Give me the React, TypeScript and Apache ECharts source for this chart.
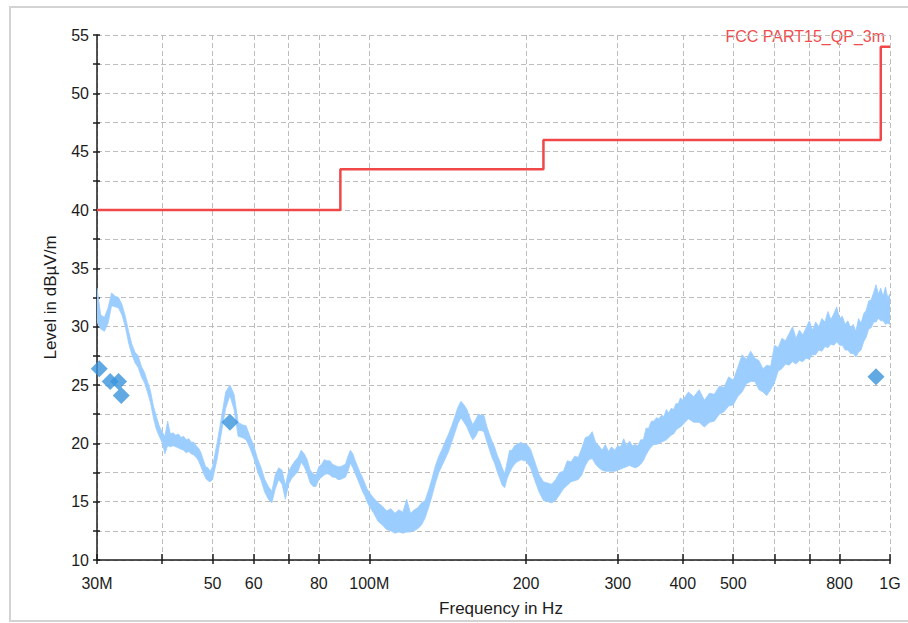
import React, { useEffect, useRef } from "react";
import * as echarts from "echarts";

// Measured spectrum: frequency samples (MHz) with the min / max level of the trace in each slot (dBµV/m)
const traceFreqMHz = [
  30, 30.5, 31, 31.5, 32, 32.5, 33, 33.5, 34, 34.5, 35, 35.5, 36, 36.5, 37, 37.5, 38, 38.5, 39, 39.5,
  40, 40.5, 41, 41.5, 42, 42.5, 43, 43.5, 44, 44.5, 45, 45.5, 46, 46.5, 47, 47.5, 48, 48.5, 49, 49.5, 50,
  51, 52, 53, 54, 55, 56, 57, 58, 59, 60, 61, 62, 63, 64, 65, 66, 67, 68, 69, 70,
  71, 72, 73, 74, 75, 76, 77, 78, 79, 80, 81, 82, 83, 84, 85, 86, 87, 88, 89, 90,
  91, 92, 93, 94, 95, 96, 97, 98, 99, 100,
  102, 104, 106, 108, 110, 112, 114, 116, 118, 120, 122, 124, 126, 128, 130, 132, 134, 136, 138, 140,
  142, 144, 146, 148, 150, 152, 154, 156, 158, 160, 162, 164, 166, 168, 170, 172, 174, 176, 178, 180,
  182, 184, 186, 188, 190, 192, 194, 196, 198, 200,
  204, 208, 212, 216, 220, 224, 228, 232, 236, 240, 244, 248, 252, 256, 260, 264, 268, 272, 276, 280,
  284, 288, 292, 296, 300, 304, 308, 312, 316, 320, 324, 328, 332, 336, 340, 344, 348, 352, 356, 360,
  364, 368, 372, 376, 380, 384, 388, 392, 396, 400,
  410, 420, 430, 440, 450, 460, 470, 480, 490, 500, 510, 520, 530, 540, 550, 560, 570, 580, 590, 600,
  610, 620, 630, 640, 650, 660, 670, 680, 690, 700, 710, 720, 730, 740, 750, 760, 770, 780, 790, 800,
  810, 820, 830, 840, 850, 860, 870, 880, 890, 900, 910, 920, 930, 940, 950, 960, 970, 980, 990, 1000,
];

const traceLow = [
  30.4, 29.8, 29.6, 30.3, 31.8, 31.7, 31.6, 31.0, 30.0, 28.6, 27.6, 26.9, 26.5, 25.7, 25.2, 24.4, 23.5, 22.2, 21.2, 20.6,
  20.1, 19.1, 19.8, 19.7, 19.8, 19.7, 19.6, 19.5, 19.4, 19.2, 19.3, 19.1, 19.0, 18.8, 18.5, 18.0, 17.5, 17.0, 16.8, 16.7, 16.9,
  18.6, 20.9, 23.0, 24.1, 22.9, 20.6, 20.5, 20.3, 19.6, 18.7, 17.6, 16.8, 15.8, 15.2, 14.9, 16.1, 16.9, 16.5, 15.2, 16.5,
  17.0, 17.3, 17.6, 18.4, 18.0, 17.4, 16.6, 16.3, 16.3, 16.9, 17.1, 17.3, 17.4, 17.3, 17.1, 17.1, 16.9, 16.9, 17.0, 17.1,
  17.6, 18.3, 17.9, 17.4, 16.9, 16.4, 15.9, 15.5, 15.0, 14.6,
  14.0, 13.3, 13.0, 12.6, 12.5, 12.3, 12.4, 12.3, 12.4, 12.4, 12.5, 12.7, 13.0, 13.6, 14.5, 15.5, 16.6, 17.5, 18.1, 18.7,
  19.3, 20.1, 20.9, 21.7, 22.2, 21.8, 21.4, 20.8, 20.3, 20.6, 21.1, 21.1, 21.0, 20.2, 19.5, 18.8, 18.3, 17.6, 17.0, 16.4,
  16.2, 17.0, 17.5, 17.9, 18.2, 18.4, 18.5, 18.6, 18.5, 18.5,
  17.9, 16.8, 15.8, 15.1, 15.0, 14.9, 15.1, 15.6, 16.1, 16.4, 16.7, 16.8, 16.9, 17.3, 18.1, 18.6, 18.7, 18.2, 17.9, 17.7,
  17.6, 17.6, 17.6, 17.6, 17.7, 17.8, 17.9, 18.0, 18.1, 18.0, 17.9, 18.0, 18.2, 18.5, 19.0, 19.4, 19.7, 19.9, 19.9, 20.0,
  20.1, 20.2, 20.3, 20.5, 20.7, 20.8, 21.1, 21.3, 21.4, 21.6,
  22.1, 21.8, 21.8, 21.4, 21.8, 21.9, 22.5, 22.7, 23.2, 23.3, 24.0, 24.4, 25.1, 25.3, 25.3, 24.6, 24.4, 24.1, 24.6, 25.2,
  26.2, 26.4, 26.8, 26.7, 27.0, 26.8, 27.1, 27.0, 27.3, 27.2, 27.6, 27.6, 28.0, 27.9, 28.3, 28.2, 28.5, 28.4, 28.7, 28.4,
  28.4, 28.0, 28.0, 27.7, 27.7, 27.4, 27.8, 28.0, 28.7, 29.1, 29.8, 29.9, 30.4, 30.4, 30.7, 30.5, 30.5, 30.2, 30.3, 30.2,
];

const traceHigh = [
  33.3, 31.0, 30.8, 31.6, 32.9, 32.6, 32.5, 31.9, 30.9, 29.6, 28.5, 27.8, 27.5, 26.6, 26.1, 25.3, 24.5, 23.2, 22.3, 21.5,
  21.0, 20.6, 21.9, 20.8, 20.9, 20.7, 20.8, 20.5, 20.6, 20.3, 20.4, 20.1, 20.1, 19.8, 19.6, 19.2, 18.6, 18.0, 17.9, 17.6, 18.0,
  20.0, 22.2, 24.4, 25.0, 24.2, 21.8, 21.6, 21.5, 20.6, 19.8, 18.7, 17.9, 16.9, 16.3, 15.9, 17.3, 17.9, 17.7, 16.4, 17.6,
  18.1, 18.5, 18.8, 19.4, 19.1, 18.6, 17.7, 17.4, 17.3, 18.0, 18.2, 18.6, 18.5, 18.5, 18.2, 18.1, 18.0, 18.0, 18.1, 18.2,
  18.9, 19.4, 19.1, 18.5, 18.0, 17.5, 17.1, 16.6, 16.1, 15.8,
  15.3, 14.9, 14.6, 14.2, 14.4, 14.0, 14.3, 14.1, 15.2, 14.0, 14.3, 14.5, 14.9, 15.1, 16.0, 17.0, 18.1, 18.9, 19.5, 20.2,
  20.8, 21.5, 22.3, 23.1, 23.6, 23.3, 22.9, 22.2, 21.6, 22.0, 22.5, 22.4, 22.4, 21.5, 20.8, 20.2, 19.7, 19.0, 18.5, 17.9,
  17.4, 18.4, 19.4, 19.4, 19.8, 19.9, 20.0, 20.1, 19.9, 20.0,
  19.5, 18.4, 17.3, 16.7, 16.6, 16.5, 16.9, 17.5, 17.6, 18.5, 18.4, 18.9, 18.8, 19.6, 20.5, 20.6, 21.0, 20.1, 19.8, 19.4,
  19.9, 19.3, 19.7, 19.4, 19.8, 19.7, 20.4, 19.8, 20.2, 19.8, 19.9, 19.8, 20.3, 20.3, 21.3, 21.3, 21.9, 21.9, 22.2, 22.1,
  22.4, 22.3, 22.9, 22.6, 23.0, 22.9, 23.4, 23.4, 23.9, 23.7,
  24.4, 24.0, 24.6, 23.7, 24.3, 24.2, 24.9, 24.8, 25.7, 25.4, 26.5, 27.6, 27.2, 27.9, 27.3, 27.1, 26.4, 26.7, 26.6, 28.4,
  28.2, 29.0, 28.8, 29.4, 30.0, 29.0, 29.7, 29.3, 29.9, 30.5, 29.7, 30.4, 30.0, 30.7, 30.4, 31.3, 30.6, 31.1, 31.7, 30.7,
  30.9, 30.2, 30.5, 29.9, 30.2, 29.6, 30.7, 30.3, 31.1, 31.4, 32.2, 32.3, 32.9, 33.6, 32.8, 33.3, 32.6, 33.4, 32.5, 32.8,
];

// FCC Part 15 class B quasi-peak limit at 3 m
const limitFreqMHz = [30, 88, 88, 216, 216, 960, 960, 1000];
const limitLevel = [40, 40, 43.5, 43.5, 46, 46, 54, 54];

// Final quasi-peak measurements
const peakFreqMHz = [30.3, 31.8, 33.0, 33.4, 54.0, 940];
const peakLevel = [26.4, 25.3, 25.3, 24.1, 21.8, 25.7];

// Frequency axis ticks and labelled ticks (MHz)
const freqTicksMHz = [30, 40, 50, 60, 70, 80, 100, 200, 300, 400, 500, 600, 700, 800, 1000];
const freqLabelsMHz = [30, 50, 60, 80, 100, 200, 300, 400, 500, 800, 1000];

const LIMIT_NAME = "FCC PART15_QP_3m";
const FONT = "Liberation Sans, Arial, sans-serif";
const INK = "#1c1c1c";
const TRACE = "#9ccdff";

const lg = (mhz: number) => Math.log10(mhz);

const freqLabel = (v: number) => {
  const mhz = Math.round(Math.pow(10, v));
  if (mhz === 1000) return "1G";
  if (mhz === 30 || mhz === 100) return `${mhz}M`;
  return String(mhz);
};

export default function App() {
  const ref = useRef<HTMLDivElement>(null);

  useEffect(() => {
    if (!ref.current) return;
    const chart = echarts.init(ref.current, undefined, { renderer: "svg" });

    const xMin = lg(30);
    const xMax = lg(1000);
    const tickVals = freqTicksMHz.map(lg);
    const labelVals = freqLabelsMHz.map(lg);

    const bandData = traceFreqMHz.map((f, i) => [lg(f), traceLow[i], traceHigh[i]]);
    const limitData = limitFreqMHz.map((f, i) => [lg(f), limitLevel[i]]);
    const peakData = peakFreqMHz.map((f, i) => [lg(f), peakLevel[i]]);

    const axisLineStyle = { color: INK, width: 1.5 };

    // The whole min/max envelope is filled as one outline: max edge forward, min edge back
    const renderBand = (params: any, api: any) => {
      if (params.dataIndex !== 0) return null;
      const upper = bandData.map((d) => api.coord([d[0], d[2]]));
      const lower = bandData.map((d) => api.coord([d[0], d[1]])).reverse();
      return {
        type: "polygon",
        shape: { points: upper.concat(lower) },
        style: { fill: TRACE, stroke: TRACE, lineWidth: 0.8, lineJoin: "miter" },
      };
    };

    chart.setOption({
      animation: false,
      backgroundColor: "#ffffff",
      textStyle: { fontFamily: FONT },
      grid: { left: 97, top: 35, right: 18, bottom: 63, containLabel: false },
      xAxis: [
        {
          type: "value",
          min: xMin,
          max: xMax,
          position: "bottom",
          name: "Frequency in Hz",
          nameLocation: "middle",
          nameGap: 40,
          nameTextStyle: { fontSize: 17, color: INK, fontFamily: FONT, padding: [0, 0, 0, 15] },
          axisLine: { show: true, onZero: false, lineStyle: axisLineStyle },
          axisTick: { show: true, inside: false, length: 4, customValues: tickVals, lineStyle: axisLineStyle },
          axisLabel: {
            customValues: labelVals,
            formatter: freqLabel,
            fontSize: 16,
            color: INK,
            fontFamily: FONT,
            margin: 15,
          },
          splitLine: { show: true, lineStyle: { color: "#bdbdbd", type: [5, 3], width: 1 } },
        },
        {
          type: "value",
          min: xMin,
          max: xMax,
          position: "bottom",
          axisLine: { show: false },
          axisTick: { show: true, inside: true, length: 6, customValues: tickVals, lineStyle: axisLineStyle },
          axisLabel: { show: false },
          splitLine: { show: false },
        },
      ],
      yAxis: [
        {
          type: "value",
          min: 10,
          max: 55,
          interval: 2.5,
          position: "left",
          name: "Level in dBµV/m",
          nameLocation: "middle",
          nameGap: 38,
          nameTextStyle: { fontSize: 17, color: INK, fontFamily: FONT },
          axisLine: { show: true, onZero: false, lineStyle: axisLineStyle },
          axisTick: { show: true, inside: false, length: 4, lineStyle: axisLineStyle },
          axisLabel: {
            formatter: (v: number) => (v % 5 === 0 ? String(v) : ""),
            fontSize: 16,
            color: INK,
            fontFamily: FONT,
            margin: 8,
          },
          splitLine: { show: true, lineStyle: { color: "#bdbdbd", type: [5, 3], width: 1 } },
        },
        {
          type: "value",
          min: 10,
          max: 55,
          interval: 2.5,
          position: "left",
          axisLine: { show: false },
          axisTick: { show: true, inside: true, length: 3, lineStyle: axisLineStyle },
          axisLabel: { show: false },
          splitLine: { show: false },
        },
      ],
      graphic: [
        {
          type: "rect",
          silent: true,
          shape: { x: 10, y: 7, width: 910, height: 614 },
          style: { fill: "none", stroke: "#d3d3d3", lineWidth: 2 },
        },
        {
          type: "text",
          right: 23,
          top: 28,
          silent: true,
          style: { text: LIMIT_NAME, fill: "#f04d4d", fontSize: 16, fontFamily: FONT },
        },
      ],
      series: [
        {
          name: "trace",
          type: "custom",
          data: bandData,
          encode: { x: 0, y: [1, 2] },
          renderItem: renderBand,
          clip: true,
          silent: true,
          z: 2,
        },
        {
          name: LIMIT_NAME,
          type: "line",
          data: limitData,
          symbol: "none",
          silent: true,
          lineStyle: { width: 2.5, color: "#f04848" },
          z: 3,
        },
        {
          name: "QP",
          type: "scatter",
          data: peakData,
          symbol: "diamond",
          symbolSize: 17,
          itemStyle: { color: "#3994db" },
          silent: true,
          z: 4,
        },
      ],
    });

    return () => chart.dispose();
  }, []);

  return (
    <div
      ref={ref}
      style={{ position: "absolute", left: 0, top: 0, width: 908, height: 623 }}
    />
  );
}
